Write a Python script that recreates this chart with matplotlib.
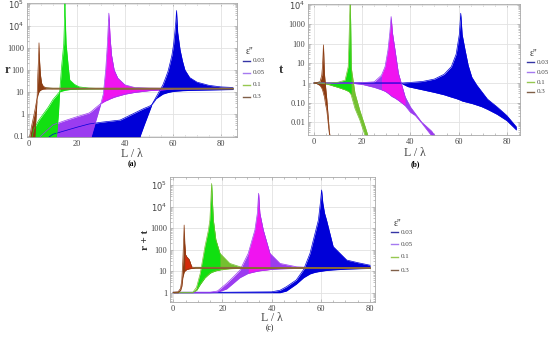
import numpy as np
import matplotlib.pyplot as plt
from matplotlib.ticker import FixedLocator, MultipleLocator, LogLocator, NullFormatter

plt.rcParams['font.family'] = ['Liberation Serif', 'DejaVu Serif']

eps_labels = ['0.03', '0.05', '0.1', '0.3']

# ---- (a) reflectance r : band envelopes (lower / upper) ----
r_blue_x = [0, 10, 20, 25, 30, 38, 44, 46.5, 48, 50, 51.2, 53, 55.8, 57, 58, 59, 59.6, 60.3, 60.8, 61.2, 61.5, 62, 62.5, 63, 64, 65, 67, 70, 75, 80, 85]
r_blue_hi = [0.02, 0.12, 0.25, 0.35, 0.42, 0.53, 1.1, 1.5, 1.8, 2.2, 2.6, 5.9, 20.8, 45, 90, 250, 480, 1500, 5000, 1.5e4, 5e4, 5000, 2000, 800, 250, 100, 45, 28, 20, 17, 16]
r_blue_lo = [0.01, 0.01, 0.01, 0.01, 0.01, 0.01, 0.01, 0.11, 0.31, 1.16, 2.6, 5.0, 8.0, 8.8, 9.5, 10.0, 10.3, 10.5, 10.7, 10.8, 10.9, 11.0, 11.1, 11.2, 11.4, 11.5, 11.8, 12, 12.3, 12.6, 12.9]

r_purple_x = [0, 5, 10, 15, 20, 25, 26, 28, 30, 31, 32, 32.7, 33.3, 33.8, 34.4, 35.5, 37, 40, 44, 50, 60, 85]
r_purple_hi = [0.02, 0.1, 0.32, 0.5, 0.75, 1.1, 1.3, 2.0, 3.0, 8, 100, 1500, 3.8e4, 3000, 480, 100, 43, 21, 16, 15, 14.5, 14.2]
r_purple_lo = [0.01, 0.01, 0.01, 0.01, 0.01, 0.01, 0.1, 0.55, 3.0, 3.5, 4.0, 4.3, 4.6, 4.9, 5.2, 5.8, 6.5, 8.0, 9.6, 11.5, 13.5, 14]

r_green_x = [0, 2, 4, 6, 8, 10, 11.5, 12.3, 12.8, 13.6, 14.5, 14.9, 15.0, 15.1, 15.5, 16.4, 17, 19, 21, 25, 30, 85]
r_green_hi = [0.02, 0.2, 0.5, 1.0, 2.0, 4.5, 7, 9, 10, 137, 1500, 3e4, 2e5, 3e4, 1500, 137, 35, 22, 17, 15, 14.3, 14.1]
r_green_lo = [0.01, 0.01, 0.01, 0.01, 0.01, 0.01, 0.1, 1.0, 10, 10.8, 11.5, 11.8, 12, 12, 12.2, 12.6, 12.9, 13.3, 13.6, 13.9, 14, 14]

r_brown_x = [0, 1, 2, 2.5, 3, 3.4, 3.7, 4.0, 4.2, 4.4, 4.8, 5.3, 6, 7.4, 10, 85]
r_brown_hi = [0.05, 0.25, 0.8, 1.5, 3, 5, 60, 300, 1700, 300, 60, 25, 18, 15, 14.3, 14.3]
r_brown_lo = [0.01, 0.01, 0.01, 0.1, 0.8, 5, 7, 9, 10, 11, 12, 12.8, 13.5, 13.8, 13.9, 13.9]

# ---- (b) transmittance t ----
t_blue_x = [0, 20, 36, 39, 45, 50, 54, 57, 59, 60.3, 60.9, 61.5, 62.7, 64, 65.5, 67.5, 69.5, 72, 76, 80, 84]
t_blue_hi = [1, 1, 1, 1.05, 1.2, 1.6, 2.8, 6.9, 30, 300, 3700, 300, 49, 8, 2.0, 0.8, 0.38, 0.15, 0.06, 0.022, 0.0057]
t_blue_lo = [1, 1, 1, 0.65, 0.45, 0.33, 0.25, 0.19, 0.16, 0.14, 0.13, 0.12, 0.11, 0.1, 0.09, 0.075, 0.062, 0.045, 0.025, 0.012, 0.004]

t_purple_x = [0, 15, 20, 25, 28, 29.5, 30.7, 31.5, 32, 32.5, 33.6, 35, 37.8, 40, 42, 44.7, 48.8, 51]
t_purple_hi = [1, 1, 1.05, 1.15, 2.5, 6.9, 49, 400, 2500, 400, 49, 3.2, 0.2, 0.06, 0.028, 0.01, 0.0035, 0.0015]
t_purple_lo = [1, 1, 0.85, 0.6, 0.45, 0.38, 0.3, 0.25, 0.22, 0.2, 0.17, 0.13, 0.07, 0.032, 0.022, 0.009, 0.002, 0.0008]

t_green_x = [0, 3, 6.6, 10, 12.9, 14.2, 14.5, 14.8, 15.0, 15.2, 15.4, 17, 19, 21.2, 22.4, 24]
t_green_hi = [1, 1, 1.0, 1.1, 1.4, 6.9, 110, 3000, 2e4, 1000, 6.9, 0.3, 0.04, 0.006, 0.002, 0.0006]
t_green_lo = [1, 1, 0.8, 0.6, 0.45, 0.38, 0.36, 0.33, 0.3, 0.28, 0.25, 0.05, 0.013, 0.002, 0.0009, 0.0003]

t_brown_x = [0, 1, 2.5, 3.2, 3.5, 3.75, 3.9, 4.05, 4.3, 4.8, 5.3, 6.3, 6.6, 7]
t_brown_hi = [1, 1.05, 1.17, 2.5, 6.9, 30, 89, 30, 3.2, 0.65, 0.15, 0.004, 0.002, 0.0008]
t_brown_lo = [1, 0.95, 0.75, 0.55, 0.45, 0.35, 0.3, 0.25, 0.2, 0.08, 0.04, 0.003, 0.0015, 0.0006]

# ---- (c) r + t ----
s_blue_x = [0, 20, 40, 43.4, 46, 50, 53, 55.6, 57.5, 59, 59.8, 60.3, 60.8, 61.5, 62.3, 65, 70.5, 75, 80]
s_blue_hi = [1.05, 1.05, 1.1, 1.3, 1.9, 3.9, 12, 68, 500, 2400, 1.5e4, 6e4, 1.5e4, 5000, 2400, 140, 33, 25, 19]
s_blue_lo = [1, 1, 1, 1, 1.2, 2.5, 5, 7.5, 8.8, 9.5, 9.8, 10, 10.2, 10.5, 10.8, 11.5, 12.5, 13, 13.5]

s_purple_x = [0, 15, 18, 21.7, 24.5, 27.1, 30.5, 33.2, 34.2, 34.7, 35.2, 36.6, 39.3, 43.4, 50.2, 58, 80]
s_purple_hi = [1.05, 1.05, 1.2, 2.7, 5.5, 11, 68, 820, 5000, 4.2e4, 5000, 820, 68, 23, 16, 14.5, 14]
s_purple_lo = [1, 1, 1.05, 1.5, 2.8, 5, 8, 9.5, 10, 10.3, 10.5, 11, 12, 12.8, 13.5, 13.8, 14]

s_green_x = [0, 8, 9.5, 11, 12.9, 14.3, 14.9, 15.3, 15.6, 15.9, 16.3, 17.3, 19, 23, 28, 80]
s_green_hi = [1.05, 1.05, 1.8, 8, 140, 800, 2400, 2e4, 1.2e5, 2e4, 2400, 300, 68, 23, 15, 14]
s_green_lo = [1, 1, 1.3, 2.5, 5, 7, 8, 8.5, 9, 9.2, 9.5, 10.5, 11.5, 13, 13.8, 14]

s_brown_x = [0, 2, 3, 3.5, 3.9, 4.2, 4.45, 4.7, 5.0, 5.5, 6.5, 7.5, 9, 80]
s_brown_hi = [1.05, 1.1, 1.6, 4, 30, 200, 1400, 200, 60, 47, 35, 16, 14.5, 14.2]
s_brown_lo = [1, 1, 1.3, 2, 5, 7, 9, 10, 11, 12, 13, 13.5, 13.8, 13.9]

base_colors = ['#0000d8', '#9b3cf0', '#30dd10', '#8b3c12']
legend_colors = ['#3535a5', '#a57af0', '#96c850', '#806048']


def draw_band(ax, x, lo, hi, color, extra=None):
    x = np.array(x)
    lo = np.array(lo)
    hi = np.array(hi)
    ax.fill_between(x, lo, hi, color=color, lw=0)
    ax.plot(x, hi, color=color, lw=0.5)
    ax.plot(x, lo, color=color, lw=0.5)
    if extra is not None:
        c2, x0, x1 = extra
        m = (x >= x0) & (x <= x1)
        ax.fill_between(x, lo, hi, where=m, color=c2, lw=0)


def setup(ax, xlim, ylim, yt, ytl):
    ax.set_yscale('log')
    ax.set_xlim(*xlim)
    ax.set_ylim(*ylim)
    ax.xaxis.set_major_locator(FixedLocator([0, 20, 40, 60, 80]))
    ax.xaxis.set_minor_locator(MultipleLocator(5))
    ax.yaxis.set_major_locator(FixedLocator(yt))
    ax.yaxis.set_minor_locator(LogLocator(base=10, subs=np.arange(2, 10)))
    ax.yaxis.set_minor_formatter(NullFormatter())
    ax.set_yticklabels(ytl)
    ax.grid(True, which='major', color='#e2e2e2', lw=0.6)
    ax.set_axisbelow(True)
    for sp in ax.spines.values():
        sp.set_color('#a8a8a8')
        sp.set_linewidth(0.6)
    ax.tick_params(which='both', direction='in', top=True, right=True,
                   colors='#a8a8a8', labelcolor='#444444', labelsize=6,
                   width=0.5, pad=2)
    ax.tick_params(which='major', length=2.5)
    ax.tick_params(which='minor', length=1.3)


def legend(fig, x, ys, ty):
    W, H = 550.0, 340.0
    fig.text(x / W + 0.004, 1 - ty / H, "\u03b5''", fontsize=7, ha='left', va='center', color='#333333')
    for lab, col, y in zip(eps_labels, legend_colors, ys):
        fig.add_artist(plt.Line2D([x / W, (x + 7) / W], [1 - y / H, 1 - y / H], color=col, lw=1.0))
        fig.text((x + 10) / W, 1 - y / H, lab, fontsize=5, ha='left', va='center', color='#444444')


fig = plt.figure(figsize=(5.5, 3.4), dpi=100)

# (a)
ax1 = fig.add_axes([27 / 550, 1 - 137 / 340, 210 / 550, 134 / 340])
setup(ax1, (-0.8, 86.7), (0.09, 1.1e5), [0.1, 1, 10, 100, 1000, 1e4, 1e5],
      ['0.1', '1', '10', '100', '1000', r'$10^4$', r'$10^5$'])
draw_band(ax1, r_blue_x, r_blue_lo, r_blue_hi, base_colors[0])
draw_band(ax1, r_purple_x, r_purple_lo, r_purple_hi, base_colors[1], ('#f014f0', 30, 60))
draw_band(ax1, r_green_x, r_green_lo, r_green_hi, '#12e012')
draw_band(ax1, r_brown_x, r_brown_lo, r_brown_hi, base_colors[3])
ax1.plot(r_brown_x[-3:], r_brown_hi[-3:], color='#8a6a3a', lw=1.2)

# (b)
ax2 = fig.add_axes([308 / 550, 1 - 135 / 340, 212 / 550, 131 / 340])
setup(ax2, (-2.5, 85.5), (0.0022, 1.1e4), [0.01, 0.1, 1, 10, 100, 1000, 1e4],
      ['0.01', '0.10', '1', '10', '100', '1000', r'$10^4$'])
draw_band(ax2, t_blue_x, t_blue_lo, t_blue_hi, base_colors[0])
draw_band(ax2, t_purple_x, t_purple_lo, t_purple_hi, base_colors[1], ('#f014f0', 28, 38))
draw_band(ax2, t_green_x, t_green_lo, t_green_hi, '#74c030', ('#10e010', 6, 15.4))
draw_band(ax2, t_brown_x, t_brown_lo, t_brown_hi, base_colors[3])

# (c)
ax3 = fig.add_axes([170 / 550, 1 - 302 / 340, 205 / 550, 125 / 340])
setup(ax3, (-1.3, 82), (0.37, 2.4e5), [1, 10, 100, 1000, 1e4, 1e5],
      ['1', '10', '100', '1000', r'$10^4$', r'$10^5$'])
draw_band(ax3, s_blue_x, s_blue_lo, s_blue_hi, base_colors[0])
draw_band(ax3, s_purple_x, s_purple_lo, s_purple_hi, base_colors[1], ('#f014f0', 30, 40))
draw_band(ax3, s_green_x, s_green_lo, s_green_hi, '#74c030', ('#10e010', 9.5, 19))
draw_band(ax3, s_brown_x, s_brown_lo, s_brown_hi, base_colors[3], ('#d42a0a', 4.7, 7.5))
ax3.plot(s_brown_x[-2:], s_brown_hi[-2:], color='#8a6a3a', lw=1.2)

W, H = 550.0, 340.0
fig.text(7 / W, 1 - 70 / H, 'r', fontsize=9, fontweight='bold', ha='center', va='center', color='#333333')
fig.text(281 / W, 1 - 70 / H, 't', fontsize=9, fontweight='bold', ha='center', va='center', color='#333333')
fig.text(145 / W, 1 - 240 / H, 'r + t', fontsize=8, fontweight='bold', ha='center', va='center',
         rotation=90, color='#333333')

fig.text(132 / W, 1 - 154 / H, 'L / \u03bb', fontsize=8.5, ha='center', va='center', color='#444444')
fig.text(415 / W, 1 - 153 / H, 'L / \u03bb', fontsize=8.5, ha='center', va='center', color='#444444')
fig.text(272 / W, 1 - 318 / H, 'L / \u03bb', fontsize=8.5, ha='center', va='center', color='#444444')
fig.text(132 / W, 1 - 164 / H, '(a)', fontsize=5.5, fontweight='bold', ha='center', va='center')
fig.text(415 / W, 1 - 164 / H, '(b)', fontsize=5.5, fontweight='bold', ha='center', va='center')
fig.text(270 / W, 1 - 328.5 / H, '(c)', fontsize=5.5, ha='center', va='center')

legend(fig, 243, [61, 73, 85, 97], 51)
legend(fig, 527, [62, 72, 82, 92], 54)
legend(fig, 391, [232, 244, 257, 270], 224)

fig.savefig('out.png', dpi=100)
